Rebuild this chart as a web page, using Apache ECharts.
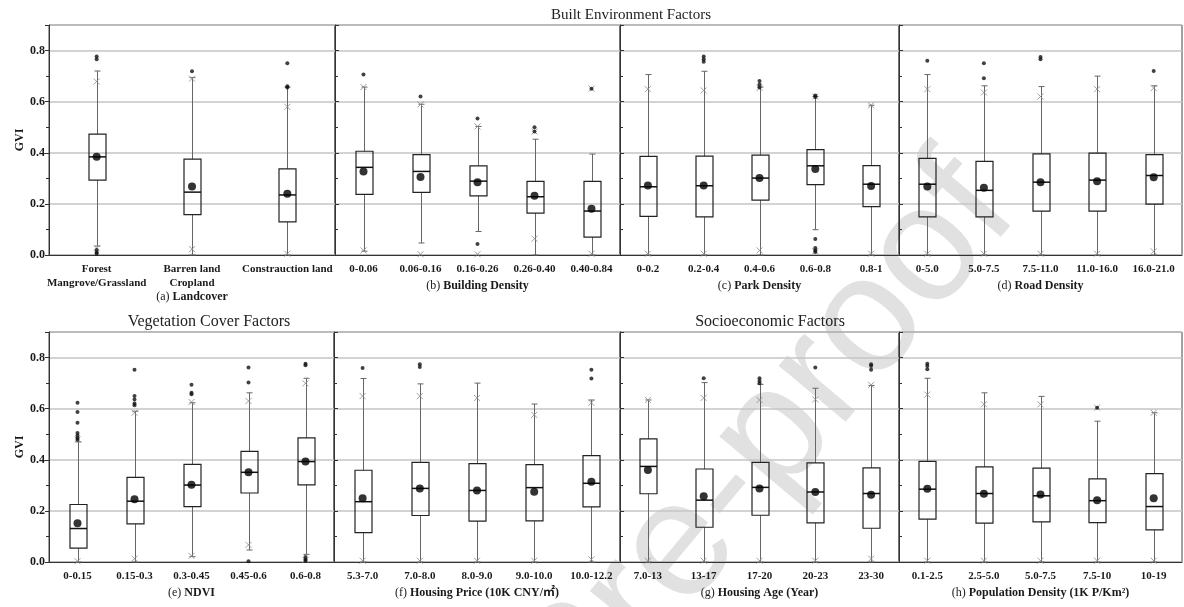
<!DOCTYPE html>
<html>
<head>
<meta charset="utf-8">
<script src="https://cdn.jsdelivr.net/npm/echarts@6/dist/echarts.min.js"></script>
<style>
html,body{margin:0;padding:0;background:#fff;}
#chart{width:1184px;height:607px;}
</style>
</head>
<body>
<div id="chart"></div>
<script>
// ---------- DATA ----------
// boxes: [lowerWhisker, Q1, median, Q3, upperWhisker]
const catsA = ['Forest\nMangrove/Grassland', 'Barren land\nCropland', 'Constrauction land'];
const boxA = [[0.035, 0.293, 0.384, 0.473, 0.72], [0.0, 0.158, 0.246, 0.375, 0.694], [0.0, 0.13, 0.235, 0.337, 0.657]];
const meanA = [0.384, 0.268, 0.24];
const pctA = [[0.027, 0.679], [0.023, 0.69], [0.005, 0.58]];
const outA = [[0, 0.777], [0, 0.766], [0, 0.02], [0, 0.01], [0, 0.005], [1, 0.719], [2, 0.75], [2, 0.66], [2, 0.655]];

const catsB = ['0-0.06', '0.06-0.16', '0.16-0.26', '0.26-0.40', '0.40-0.84'];
const boxB = [[0.015, 0.237, 0.343, 0.406, 0.657], [0.047, 0.245, 0.327, 0.393, 0.59], [0.092, 0.231, 0.289, 0.349, 0.503], [0.0, 0.164, 0.228, 0.288, 0.453], [0.0, 0.07, 0.172, 0.288, 0.395]];
const meanB = [0.327, 0.305, 0.285, 0.232, 0.181];
const pctB = [[0.018, 0.657], [0.003, 0.589], [0.003, 0.503], [0.064, 0.483], [0.005, 0.651]];
const outB = [[0, 0.706], [1, 0.62], [2, 0.534], [2, 0.043], [3, 0.5], [3, 0.483], [4, 0.651]];

const catsC = ['0-0.2', '0.2-0.4', '0.4-0.6', '0.6-0.8', '0.8-1'];
const boxC = [[0, 0.151, 0.267, 0.386, 0.706], [0, 0.149, 0.271, 0.387, 0.719], [0, 0.215, 0.301, 0.391, 0.657], [0.099, 0.275, 0.349, 0.412, 0.62], [0, 0.189, 0.277, 0.35, 0.586]];
const meanC = [0.272, 0.272, 0.301, 0.337, 0.27];
const pctC = [[0.005, 0.649], [0.005, 0.644], [0.018, 0.654], [0.015, 0.62], [0.005, 0.586]];
const outC = [[1, 0.777], [1, 0.766], [1, 0.756], [2, 0.681], [2, 0.667], [2, 0.655], [3, 0.624], [3, 0.618], [3, 0.063], [3, 0.027], [3, 0.018], [3, 0.012]];

const catsD = ['0-5.0', '5.0-7.5', '7.5-11.0', '11.0-16.0', '16.0-21.0'];
const boxD = [[0, 0.149, 0.277, 0.378, 0.706], [0, 0.149, 0.253, 0.366, 0.662], [0, 0.172, 0.285, 0.396, 0.659], [0, 0.172, 0.293, 0.399, 0.7], [0, 0.199, 0.311, 0.393, 0.662]];
const meanD = [0.268, 0.263, 0.285, 0.289, 0.304];
const pctD = [[0.005, 0.649], [0.005, 0.636], [0.005, 0.62], [0.005, 0.649], [0.014, 0.653]];
const outD = [[0, 0.76], [1, 0.75], [1, 0.692], [2, 0.775], [2, 0.766], [4, 0.72]];

const catsE = ['0-0.15', '0.15-0.3', '0.3-0.45', '0.45-0.6', '0.6-0.8'];
const boxE = [[0, 0.054, 0.131, 0.225, 0.47], [0, 0.149, 0.238, 0.331, 0.59], [0.021, 0.217, 0.301, 0.382, 0.623], [0.047, 0.27, 0.351, 0.433, 0.662], [0.03, 0.302, 0.393, 0.486, 0.719]];
const meanE = [0.152, 0.246, 0.302, 0.351, 0.393];
const pctE = [[0.003, 0.48], [0.013, 0.584], [0.024, 0.626], [0.067, 0.63], [0.008, 0.699]];
const outE = [[0, 0.623], [0, 0.587], [0, 0.545], [0, 0.505], [0, 0.495], [0, 0.485], [0, 0.478], [1, 0.752], [1, 0.65], [1, 0.636], [1, 0.62], [1, 0.613], [2, 0.694], [2, 0.662], [2, 0.656], [3, 0.761], [3, 0.702], [3, 0.003], [4, 0.776], [4, 0.77], [4, 0.02], [4, 0.01], [4, 0.005]];

const catsF = ['5.3-7.0', '7.0-8.0', '8.0-9.0', '9.0-10.0', '10.0-12.2'];
const boxF = [[0, 0.115, 0.236, 0.359, 0.718], [0, 0.182, 0.288, 0.39, 0.697], [0, 0.16, 0.28, 0.385, 0.7], [0, 0.161, 0.291, 0.381, 0.618], [0, 0.216, 0.308, 0.416, 0.634]];
const meanF = [0.249, 0.288, 0.28, 0.275, 0.314];
const pctF = [[0.005, 0.649], [0.005, 0.649], [0.005, 0.642], [0.005, 0.576], [0.01, 0.623]];
const outF = [[0, 0.759], [1, 0.774], [1, 0.763], [4, 0.752], [4, 0.718]];

const catsG = ['7.0-13', '13-17', '17-20', '20-23', '23-30'];
const boxG = [[0, 0.267, 0.374, 0.482, 0.634], [0, 0.136, 0.242, 0.364, 0.702], [0, 0.183, 0.292, 0.39, 0.695], [0, 0.153, 0.274, 0.388, 0.68], [0, 0.132, 0.268, 0.368, 0.691]];
const meanG = [0.36, 0.257, 0.288, 0.274, 0.263];
const pctG = [[0.005, 0.634], [0.005, 0.642], [0.005, 0.634], [0.005, 0.636], [0.013, 0.693]];
const outG = [[1, 0.719], [2, 0.719], [2, 0.708], [2, 0.699], [3, 0.761], [4, 0.774], [4, 0.767], [4, 0.752]];

const catsH = ['0.1-2.5', '2.5-5.0', '5.0-7.5', '7.5-10', '10-19'];
const boxH = [[0, 0.168, 0.285, 0.394, 0.719], [0, 0.152, 0.268, 0.372, 0.662], [0, 0.157, 0.259, 0.367, 0.648], [0, 0.154, 0.24, 0.325, 0.551], [0, 0.126, 0.217, 0.346, 0.584]];
const meanH = [0.287, 0.267, 0.264, 0.242, 0.249];
const pctH = [[0.005, 0.655], [0.005, 0.617], [0.005, 0.617], [0.005, 0.604], [0.005, 0.584]];
const outH = [[0, 0.776], [0, 0.767], [0, 0.754], [3, 0.604]];

const yTicks = { min: 0, max: 0.9, step: 0.2 };
const groupTitles = ['Built Environment Factors', 'Vegetation Cover Factors', 'Socioeconomic Factors'];
const panelLetters = ['(a)', '(b)', '(c)', '(d)', '(e)', '(f)', '(g)', '(h)'];
const panelNames = ['Landcover', 'Building Density', 'Park Density', 'Road Density', 'NDVI', 'Housing Price (10K CNY/\u33A1)', 'Housing Age (Year)', 'Population Density (1K P/Km\u00B2)'];
const watermarkText = 'Pre-proof';

// ---------- LAYOUT ----------
const FONT = '"Liberation Serif", "Times New Roman", "Noto Sans CJK SC", serif';
const panels = [
  { cats: catsA, box: boxA, mean: meanA, pct: pctA, out: outA, x0: 49, x1: 335, row: 0 },
  { cats: catsB, box: boxB, mean: meanB, pct: pctB, out: outB, x0: 335, x1: 620, row: 0 },
  { cats: catsC, box: boxC, mean: meanC, pct: pctC, out: outC, x0: 620, x1: 899, row: 0 },
  { cats: catsD, box: boxD, mean: meanD, pct: pctD, out: outD, x0: 899, x1: 1182, row: 0 },
  { cats: catsE, box: boxE, mean: meanE, pct: pctE, out: outE, x0: 49, x1: 334, row: 1 },
  { cats: catsF, box: boxF, mean: meanF, pct: pctF, out: outF, x0: 334, x1: 620, row: 1 },
  { cats: catsG, box: boxG, mean: meanG, pct: pctG, out: outG, x0: 620, x1: 899, row: 1 },
  { cats: catsH, box: boxH, mean: meanH, pct: pctH, out: outH, x0: 899, x1: 1182, row: 1 }
];
const rows = [{ top: 25, h: 230 }, { top: 332, h: 230 }];

const grids = [], xAxes = [], yAxes = [], series = [];

function renderBox(params, api) {
  const i = api.value(0);
  const c = (v) => api.coord([i, v]);
  const pLo = c(api.value(1)), pQ1 = c(api.value(2)), pMed = c(api.value(3)), pQ3 = c(api.value(4)), pHi = c(api.value(5));
  const cx = Math.round(pQ1[0]) + 0.5;
  const w = 17, cap = 3;
  const wl = { stroke: '#666', lineWidth: 1 };
  const bl = { stroke: '#222', lineWidth: 1.2, fill: 'none' };
  return {
    type: 'group',
    children: [
      { type: 'line', shape: { x1: cx, y1: pLo[1], x2: cx, y2: pQ1[1] }, style: wl },
      { type: 'line', shape: { x1: cx, y1: pQ3[1], x2: cx, y2: pHi[1] }, style: wl },
      { type: 'line', shape: { x1: cx - cap, y1: pLo[1], x2: cx + cap, y2: pLo[1] }, style: wl },
      { type: 'line', shape: { x1: cx - cap, y1: pHi[1], x2: cx + cap, y2: pHi[1] }, style: wl },
      { type: 'rect', shape: { x: cx - w / 2, y: pQ3[1], width: w, height: pQ1[1] - pQ3[1] }, style: bl },
      { type: 'line', shape: { x1: cx - w / 2, y1: pMed[1], x2: cx + w / 2, y2: pMed[1] }, style: { stroke: '#111', lineWidth: 1.5 } }
    ]
  };
}

panels.forEach((p, k) => {
  const r = rows[p.row];
  grids.push({ left: p.x0, top: r.top, width: p.x1 - p.x0, height: r.h, show: true, borderColor: '#444', borderWidth: 1, backgroundColor: 'transparent' });
  const isA = k === 0;
  xAxes.push({
    type: 'category', gridIndex: k, data: p.cats, boundaryGap: true,
    axisLine: { show: true, lineStyle: { color: '#333', width: 1 } },
    axisTick: { show: false },
    axisLabel: { interval: 0, fontFamily: FONT, fontWeight: 'bold', fontSize: 11, color: '#1a1a1a', margin: 7, lineHeight: 14 },
    name: '{r|' + panelLetters[k] + ' }{b|' + panelNames[k] + '}',
    nameLocation: 'middle',
    nameGap: isA ? 35 : 25,
    nameTextStyle: {
      fontFamily: FONT, fontSize: 12, color: '#1a1a1a',
      rich: {
        r: { fontFamily: FONT, fontSize: 12, fontWeight: 'normal', color: '#1a1a1a' },
        b: { fontFamily: FONT, fontSize: 12, fontWeight: 'bold', color: '#1a1a1a' }
      }
    }
  });
  const showY = (k === 0 || k === 4);
  yAxes.push({
    type: 'value', gridIndex: k, min: yTicks.min, max: yTicks.max, interval: yTicks.step,
    name: showY ? 'GVI' : '', nameLocation: 'middle', nameGap: 22,
    nameTextStyle: { fontFamily: FONT, fontWeight: 'bold', fontSize: 12, color: '#1a1a1a' },
    axisLine: { show: true, lineStyle: { color: '#333' } },
    axisTick: { show: true, length: 4, inside: !showY, lineStyle: { color: '#333' } },
    minorTick: { show: true, splitNumber: 2, length: 3, lineStyle: { color: '#333' } },
    axisLabel: {
      show: showY, fontFamily: FONT, fontWeight: 'bold', fontSize: 12, color: '#1a1a1a', margin: 4,
      formatter: (v) => (v > 0.85 ? '' : v.toFixed(1))
    },
    splitLine: { show: true, lineStyle: { color: '#c4c4c4', width: 1.5 } }
  });
  series.push({
    type: 'custom', xAxisIndex: k, yAxisIndex: k, renderItem: renderBox, silent: true, z: 3,
    encode: { x: 0, y: [1, 2, 3, 4, 5] },
    data: p.box.map((b, i) => [i].concat(b))
  });
  series.push({
    type: 'scatter', xAxisIndex: k, yAxisIndex: k, silent: true, z: 4,
    symbol: 'path://M0,0L10,10M10,0L0,10', symbolSize: 6,
    itemStyle: { color: 'none', borderColor: '#888', borderWidth: 1 },
    data: p.pct.flatMap((q, i) => [[i, q[0]], [i, q[1]]])
  });
  series.push({
    type: 'scatter', xAxisIndex: k, yAxisIndex: k, silent: true, z: 5,
    symbol: 'circle', symbolSize: 4, itemStyle: { color: '#111' },
    data: p.out
  });
  series.push({
    type: 'scatter', xAxisIndex: k, yAxisIndex: k, silent: true, z: 6,
    symbol: 'circle', symbolSize: 8, itemStyle: { color: '#000' },
    data: p.mean.map((v, i) => [i, v])
  });
});

const titleStyle = { fontFamily: FONT, fontSize: 15, fontWeight: 'normal', color: '#222' };
const option = {
  animation: false,
  backgroundColor: '#fff',
  title: [
    { text: groupTitles[0], left: 626, top: 3, textAlign: 'center', textStyle: titleStyle },
    { text: groupTitles[1], left: 204, top: 309, textAlign: 'center', textStyle: Object.assign({}, titleStyle, { fontSize: 16 }) },
    { text: groupTitles[2], left: 765, top: 309, textAlign: 'center', textStyle: Object.assign({}, titleStyle, { fontSize: 16 }) }
  ],
  graphic: {
    elements: [{
      type: 'text', x: 765, y: 447, rotation: 50 * Math.PI / 180, z: -10, silent: true,
      style: { text: watermarkText, fontSize: 165, fontFamily: '"Liberation Sans", Arial, sans-serif', fill: '#e1e1e1', align: 'center', verticalAlign: 'middle' }
    }]
  },
  grid: grids,
  xAxis: xAxes,
  yAxis: yAxes,
  series: series
};
const chart = echarts.init(document.getElementById('chart'), null, { renderer: 'canvas' });
chart.setOption(option);
</script>
</body>
</html>
